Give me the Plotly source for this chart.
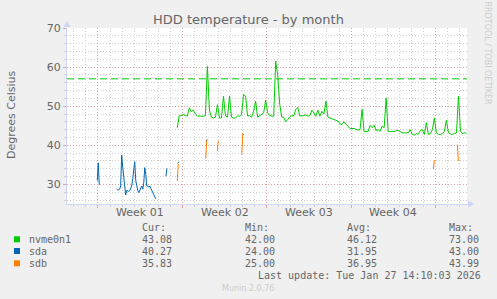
import plotly.graph_objects as go

# ---------------- data ----------------
series_names = ["nvme0n1", "sda", "sdb"]
series_colors = ["#00cc00", "#0066b3", "#ff8000"]

# nvme0n1: continuous run of 4-hourly samples (x in days from the Week 01 boundary)
nvme_start = 6.58
nvme_step = 1 / 6
nvme_values = [
    44.5, 47.6, 47.6, 47.9, 47.6, 47.5, 49.6, 48.6, 49.0, 48.0,
    47.5, 47.45, 47.45, 47.45, 47.6, 60.2, 49.0, 47.2, 47.0, 47.2,
    50.4, 47.0, 47.0, 52.6, 47.5, 47.2, 52.6, 47.2, 47.0, 47.0,
    47.5, 47.5, 47.9, 53.0, 52.6, 47.5, 47.6, 47.2, 48.7, 51.3,
    47.2, 47.6, 47.9, 48.3, 51.5, 48.3, 47.6,
    47.45, 47.45, 61.5, 58.0, 50.5, 47.2, 47.2, 46.0, 46.6, 47.3,
    47.6, 47.5, 49.2, 49.7, 47.5, 47.5, 47.6, 47.8, 47.45, 47.6,
    49.0, 48.3, 47.45, 49.0, 47.45, 48.7, 48.0, 51.3, 47.2, 47.0,
    46.8, 46.6, 46.4, 46.2, 45.5, 45.3, 46.0, 45.5, 45.0, 44.3,
    44.3, 44.3, 44.1, 43.9, 44.05, 49.2,
    43.5, 43.5, 43.5, 45.1, 44.5, 45.1, 43.8, 44.0, 43.6, 44.9,
    44.5, 52.1, 43.5, 43.5, 43.6, 43.5, 43.8, 43.8, 43.5, 43.2,
    43.2, 43.2, 43.2, 44.0, 42.8, 42.6, 43.0, 42.8, 43.8, 44.05,
    42.8, 45.8, 42.8, 43.0, 44.0, 47.0, 43.2, 42.8, 42.8, 43.0,
    43.6, 46.4, 43.2, 42.9, 42.8, 43.0, 43.2, 52.6, 43.6, 43.0,
    43.2, 43.1,
]

# sda / sdb: broken runs of 2-hourly samples: (start day, values)
seg_step = 1 / 12
sda_segments = [
    (-0.06, [31.0, 35.5, 29.9]),
    (1.55, [28.9, 28.6, 28.6, 28.8, 29.6, 37.5, 34.5, 31.5, 29.0, 27.3,
            28.5, 28.3, 28.2, 28.4, 29.0, 29.6, 31.5, 33.5, 35.8, 31.0,
            29.3, 28.5, 27.9, 28.5, 29.3, 29.6, 28.8, 30.5, 34.3, 32.6,
            29.6, 29.6, 29.3, 29.6, 29.0, 28.5, 27.6, 27.5, 26.6, 26.3]),
    (5.64, [32.1, 34.1]),
    (6.62, [35.4, 35.8]),
    (8.98, [41.0, 41.5]),
    (12.0, [42.6, 42.8]),
]
sdb_segments = [
    (6.58, [30.9, 35.3]),
    (8.94, [36.6, 41.3]),
    (9.90, [38.5, 41.2]),
    (11.93, [37.6, 43.0, 42.8]),
    (27.83, [33.9, 36.2]),
    (29.82, [40.2, 36.0]),
]

warning_level = 57
week_starts = [0, 7, 14, 21, 28]
week_labels = ["Week 01", "Week 02", "Week 03", "Week 04"]
y_ticks = [30, 40, 50, 60, 70]
x_range = [-2.57, 30.62]
y_range = [25, 70]

stat_headers = ["Cur:", "Min:", "Avg:", "Max:"]
stat_values = {
    "nvme0n1": ["43.08", "42.00", "46.12", "73.00"],
    "sda": ["40.27", "24.00", "31.95", "43.00"],
    "sdb": ["35.83", "25.00", "36.95", "43.99"],
}
title_text = "HDD temperature - by month"
y_title = "Degrees Celsius"
last_update = "Last update: Tue Jan 27 14:10:03 2026"
footer = "Munin 2.0.76"
watermark = "RRDTOOL / TOBI OETIKER"

# ---------------- helpers ----------------
W, H = 497, 299
L, R, T, B = 67, 30, 28, 95
PW, PH = W - L - R, H - T - B


def xp(px):
    return (px - L) / PW


def yp(py):
    return (T + PH - py) / PH


def build(segments):
    xs, ys = [], []
    for start, vals in segments:
        for i, v in enumerate(vals):
            xs.append(start + i * seg_step)
            ys.append(v)
        xs.append(None)
        ys.append(None)
    return xs, ys


FONT = "DejaVu Sans"
MONO = "DejaVu Sans Mono"
TXT = "#666666"
MAJ = "#e0a4a4"
MIN = "#d0d0d0"
AXIS = "#cfd6f8"

fig = go.Figure()

nx = [nvme_start + i * nvme_step for i in range(len(nvme_values))]
fig.add_trace(go.Scatter(x=nx, y=nvme_values, mode="lines",
                         line=dict(color=series_colors[0], width=1), showlegend=False))
sx, sy = build(sda_segments)
fig.add_trace(go.Scatter(x=sx, y=sy, mode="lines", connectgaps=False,
                         line=dict(color=series_colors[1], width=1), showlegend=False))
bx, by = build(sdb_segments)
fig.add_trace(go.Scatter(x=bx, y=by, mode="lines", connectgaps=False,
                         line=dict(color=series_colors[2], width=1), showlegend=False))

fig.update_layout(
    width=W, height=H, autosize=False,
    margin=dict(l=L, r=R, t=T, b=B, pad=0),
    paper_bgcolor="#f0f0f0", plot_bgcolor="#ffffff",
    font=dict(family=FONT, color=TXT, size=11),
    xaxis=dict(
        range=x_range, tickmode="array", tickvals=week_starts, showticklabels=False,
        showgrid=True, gridcolor=MAJ, griddash="1px,2px", gridwidth=1,
        minor=dict(tick0=0, dtick=1, showgrid=True, gridcolor=MIN, griddash="1px,2px",
                   ticks="outside", ticklen=2, tickcolor=MIN),
        ticks="outside", ticklen=3, tickcolor=MAJ,
        showline=True, linecolor=AXIS, linewidth=1, zeroline=False,
    ),
    yaxis=dict(
        range=y_range, tickmode="array", tickvals=y_ticks,
        showgrid=True, gridcolor=MAJ, griddash="1px,2px", gridwidth=1,
        minor=dict(tick0=0, dtick=2, showgrid=True, gridcolor=MIN, griddash="1px,2px",
                   ticks="outside", ticklen=2, tickcolor=MIN),
        ticks="outside", ticklen=3, tickcolor=MAJ,
        showline=True, linecolor=AXIS, linewidth=1, zeroline=False,
        tickfont=dict(size=11, color=TXT, family=FONT),
    ),
)

shapes = []
# warning rule
shapes.append(dict(type="line", xref="paper", yref="y", x0=0, x1=1,
                   y0=warning_level, y1=warning_level,
                   line=dict(color="#00cc00", width=1, dash="7px,4px")))
# axis arrows
shapes.append(dict(type="path", xref="paper", yref="paper",
                   path=f"M {xp(63.5)},{yp(27)} L {xp(67)},{yp(20.5)} L {xp(70.5)},{yp(27)} Z",
                   fillcolor=AXIS, line=dict(width=0)))
shapes.append(dict(type="path", xref="paper", yref="paper",
                   path=f"M {xp(467)},{yp(204)} L {xp(468)},{yp(204)}",
                   line=dict(color=AXIS, width=1)))
shapes.append(dict(type="path", xref="paper", yref="paper",
                   path=f"M {xp(468)},{yp(200.5)} L {xp(474.5)},{yp(204)} L {xp(468)},{yp(207.5)} Z",
                   fillcolor=AXIS, line=dict(width=0)))

annotations = []
# week labels centred in each week
for ws, lab in zip(week_starts, week_labels):
    annotations.append(dict(text=lab, x=ws + 3.5, y=yp(212), xref="x", yref="paper",
                            showarrow=False, xanchor="center", yanchor="middle",
                            font=dict(size=11, color=TXT, family=FONT)))
annotations.append(dict(text=title_text, x=xp(248), y=yp(19), xref="paper", yref="paper",
                        showarrow=False, xanchor="center", yanchor="middle",
                        font=dict(size=13, color=TXT, family=FONT)))
annotations.append(dict(text=y_title, x=xp(11), y=yp(114), xref="paper", yref="paper",
                        showarrow=False, textangle=-90, xanchor="center", yanchor="middle",
                        font=dict(size=11, color=TXT, family=FONT)))
annotations.append(dict(text=watermark, x=xp(487.5), y=yp(53), xref="paper", yref="paper",
                        showarrow=False, textangle=90, xanchor="center", yanchor="middle",
                        font=dict(size=8, color="#cccccc", family=FONT)))

col_x = [140, 242.7, 345, 446.7]
for cx, h in zip(col_x, stat_headers):
    annotations.append(dict(text=h, x=xp(cx), y=yp(228), xref="paper", yref="paper",
                            showarrow=False, xanchor="left", yanchor="middle",
                            font=dict(size=10, color=TXT, family=MONO)))
row_y = [239.3, 251, 263.3]
for name, color, ry in zip(series_names, series_colors, row_y):
    shapes.append(dict(type="rect", xref="paper", yref="paper",
                       x0=xp(14), x1=xp(20), y0=yp(ry - 3), y1=yp(ry + 3),
                       fillcolor=color, line=dict(width=0)))
    annotations.append(dict(text=name, x=xp(26.5), y=yp(ry), xref="paper", yref="paper",
                            showarrow=False, xanchor="left", yanchor="middle",
                            font=dict(size=10, color=TXT, family=MONO)))
    for cx, v in zip(col_x, stat_values[name]):
        annotations.append(dict(text=v, x=xp(cx), y=yp(ry), xref="paper", yref="paper",
                                showarrow=False, xanchor="left", yanchor="middle",
                                font=dict(size=10, color=TXT, family=MONO)))
annotations.append(dict(text=last_update, x=xp(483), y=yp(275.5), xref="paper", yref="paper",
                        showarrow=False, xanchor="right", yanchor="middle",
                        font=dict(size=10, color=TXT, family=MONO)))
annotations.append(dict(text=footer, x=xp(248), y=yp(288), xref="paper", yref="paper",
                        showarrow=False, xanchor="center", yanchor="middle",
                        font=dict(size=8, color="#cccccc", family=FONT)))

fig.update_layout(shapes=shapes, annotations=annotations)
fig.write_html("out.html")
